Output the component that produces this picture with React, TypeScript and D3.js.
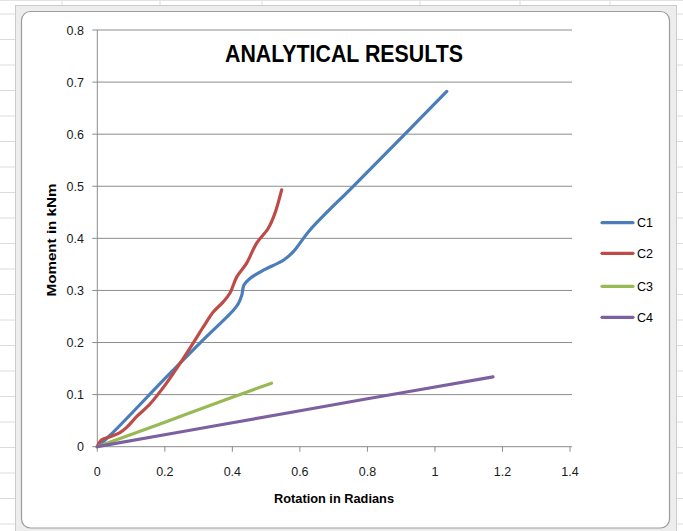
import React from "react";
import * as d3 from "d3";

// Rotation (rad) and moment (kNm) samples for each connection
const c1Rotation = [0, 0.038, 0.205, 0.304, 0.403, 0.418, 0.428, 0.434, 0.452, 0.492, 0.551, 0.58, 0.63, 0.758, 0.911, 1.035];
const c1Moment = [0, 0.022, 0.134, 0.199, 0.262, 0.275, 0.291, 0.31, 0.323, 0.339, 0.358, 0.374, 0.416, 0.5, 0.6, 0.682];

const c2Rotation = [0, 0.012, 0.038, 0.067, 0.087, 0.117, 0.156, 0.205, 0.245, 0.284, 0.314, 0.344, 0.373, 0.393, 0.413, 0.442, 0.472, 0.506, 0.526, 0.546];
const c2Moment = [0, 0.013, 0.019, 0.027, 0.037, 0.058, 0.082, 0.122, 0.16, 0.199, 0.23, 0.259, 0.278, 0.295, 0.326, 0.352, 0.391, 0.419, 0.448, 0.493];

const c3Rotation = [0, 0.2, 0.4, 0.516];
const c3Moment = [0, 0.047, 0.095, 0.122];

const c4Rotation = [0, 0.4, 0.8, 1.172];
const c4Moment = [0, 0.046, 0.092, 0.134];

const seriesNames = ["C1", "C2", "C3", "C4"];
const seriesColors = ["#4A7EBB", "#BE4B48", "#98B954", "#7D60A0"];

const xTicks = [0, 0.2, 0.4, 0.6, 0.8, 1, 1.2, 1.4];
const yTicks = [0, 0.1, 0.2, 0.3, 0.4, 0.5, 0.6, 0.7, 0.8];

const chartTitle = "ANALYTICAL RESULTS";
const xTitle = "Rotation in Radians";
const yTitle = "Moment in kNm";

const W = 683;
const H = 531;
const plot = { left: 97.3, right: 570, top: 30, bottom: 446.7 };
const font = "'Liberation Sans', Arial, sans-serif";

export default function App() {
  const x = d3.scaleLinear().domain([0, 1.4]).range([plot.left, plot.right]);
  const y = d3.scaleLinear().domain([0, 0.8]).range([plot.bottom, plot.top]);

  const series = [
    { name: seriesNames[0], xs: c1Rotation, ys: c1Moment },
    { name: seriesNames[1], xs: c2Rotation, ys: c2Moment },
    { name: seriesNames[2], xs: c3Rotation, ys: c3Moment },
    { name: seriesNames[3], xs: c4Rotation, ys: c4Moment },
  ];

  const line = d3
    .line<[number, number]>()
    .x((d) => x(d[0]))
    .y((d) => y(d[1]))
    .curve(d3.curveCatmullRom.alpha(0.5));

  // spreadsheet cell lines behind the chart
  const rowLines = d3.range(0, H, 25.5);
  const colLines = [62, 160, 262, 420, 520, 610];

  const legendY = [222.7, 253.3, 286.3, 317.3];

  return (
    <svg
      width={W}
      height={H}
      style={{ position: "absolute", left: 0, top: 0, background: "#ffffff" }}
    >
      {/* worksheet background */}
      <rect x={0} y={0} width={W} height={H} fill="#ffffff" />
      {rowLines.map((r, i) => (
        <g key={"row" + i}>
          <line x1={0} x2={16} y1={r + 14} y2={r + 14} stroke="#dcdcdc" />
          <line x1={677} x2={W} y1={r + 14} y2={r + 14} stroke="#dcdcdc" />
        </g>
      ))}
      {colLines.map((c, i) => (
        <line key={"col" + i} x1={c} x2={c} y1={0} y2={5} stroke="#dcdcdc" />
      ))}
      <line x1={0} x2={W} y1={0.5} y2={0.5} stroke="#e3e3e3" />

      {/* chart selection frame */}
      <rect x={15.5} y={5.5} width={661} height={530} fill="#ededed" stroke="#cccccc" />
      <rect x={21.5} y={11.5} width={648} height={516.5} rx={9} fill="#ffffff" stroke="#9c9c9c" strokeWidth={1.2} />

      {/* gridlines */}
      {yTicks.map((t) => (
        <line
          key={"g" + t}
          x1={plot.left - 5}
          x2={plot.right + 2}
          y1={y(t)}
          y2={y(t)}
          stroke="#8c8c8c"
          strokeWidth={1}
        />
      ))}
      {/* y axis */}
      <line x1={plot.left} x2={plot.left} y1={plot.top} y2={plot.bottom} stroke="#8c8c8c" />
      {/* x axis tick marks */}
      {xTicks.map((t) => (
        <line key={"xt" + t} x1={x(t)} x2={x(t)} y1={plot.bottom} y2={plot.bottom + 5} stroke="#8c8c8c" />
      ))}

      {/* tick labels */}
      {yTicks.map((t) => (
        <text
          key={"yl" + t}
          x={84}
          y={y(t) + 4.5}
          textAnchor="end"
          fontFamily={font}
          fontSize={12.5}
          fill="#1a1a1a"
        >
          {t === 0 ? "0" : d3.format(".1f")(t)}
        </text>
      ))}
      {xTicks.map((t) => (
        <text
          key={"xl" + t}
          x={x(t)}
          y={476}
          textAnchor="middle"
          fontFamily={font}
          fontSize={12.5}
          fill="#1a1a1a"
        >
          {t === 0 || t === 1 ? String(t) : d3.format(".1f")(t)}
        </text>
      ))}

      {/* series */}
      {series.map((s, i) => (
        <path
          key={s.name}
          d={line(s.xs.map((v, k) => [v, s.ys[k]] as [number, number])) || ""}
          fill="none"
          stroke={seriesColors[i]}
          strokeWidth={3.2}
          strokeLinecap="round"
          strokeLinejoin="round"
        />
      ))}

      {/* title */}
      <text
        x={344}
        y={62}
        textAnchor="middle"
        fontFamily={font}
        fontWeight="bold"
        fontSize={24.5}
        textLength={238}
        lengthAdjust="spacingAndGlyphs"
        fill="#000"
      >
        {chartTitle}
      </text>

      {/* axis titles */}
      <text
        x={334}
        y={503}
        textAnchor="middle"
        fontFamily={font}
        fontWeight="bold"
        fontSize={13}
        textLength={120}
        lengthAdjust="spacingAndGlyphs"
        fill="#000"
      >
        {xTitle}
      </text>
      <text
        transform="translate(56,240) rotate(-90)"
        textAnchor="middle"
        fontFamily={font}
        fontWeight="bold"
        fontSize={13.5}
        textLength={113}
        lengthAdjust="spacingAndGlyphs"
        fill="#000"
      >
        {yTitle}
      </text>

      {/* legend */}
      {series.map((s, i) => (
        <g key={"lg" + s.name}>
          <line
            x1={602}
            x2={633}
            y1={legendY[i]}
            y2={legendY[i]}
            stroke={seriesColors[i]}
            strokeWidth={3.2}
            strokeLinecap="round"
          />
          <text x={637} y={legendY[i] + 4.5} fontFamily={font} fontSize={12.5} fill="#000">
            {s.name}
          </text>
        </g>
      ))}
    </svg>
  );
}
